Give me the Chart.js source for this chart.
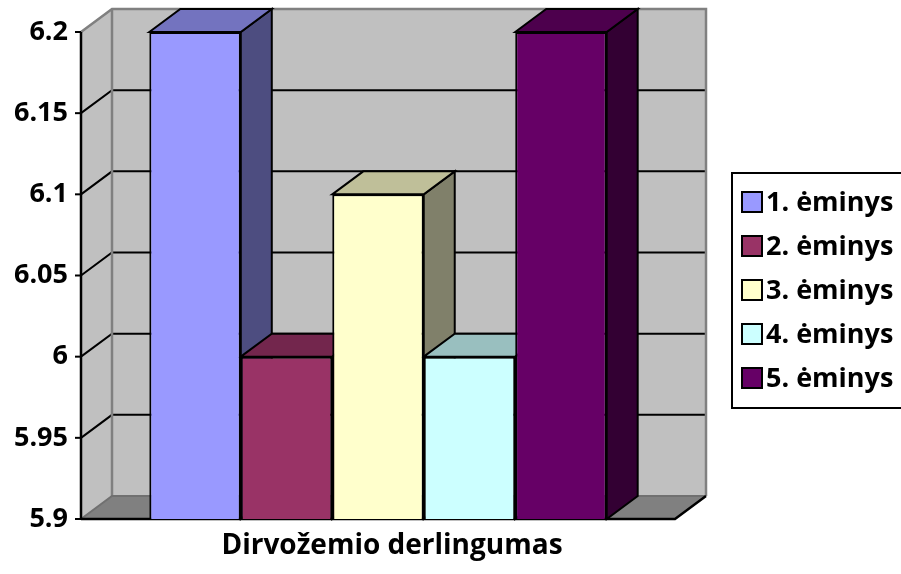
<!DOCTYPE html>
<html><head><meta charset="utf-8">
<script src="https://cdn.jsdelivr.net/npm/chart.js@4"></script>
<style>html,body{margin:0;padding:0;background:#fff}#wrap{width:901px;height:574px}</style>
</head><body><div id="wrap"><canvas id="c" width="901" height="574"></canvas></div>
<script>
const categories = ['Dirvožemio derlingumas'];
const seriesNames = ['1. ėminys', '2. ėminys', '3. ėminys', '4. ėminys', '5. ėminys'];
const seriesValues = [6.2, 6.0, 6.1, 6.0, 6.2];
const yTicks = [5.9, 5.95, 6.0, 6.05, 6.1, 6.15, 6.2];
const frontColors = ['#9999FF', '#993366', '#FFFFCC', '#CCFFFF', '#660066'];
const topColors = ['#7373BF', '#73264D', '#BFBF99', '#99BFBF', '#4D004D'];
const sideColors = ['#4D4D80', '#4D1A33', '#80806A', '#668080', '#330033'];
const DX = 31, DY = -23;
const FONT = '"Open Sans"';

function poly(ctx, pts, fill, stroke, lw) {
  ctx.beginPath();
  ctx.moveTo(pts[0][0], pts[0][1]);
  for (let i = 1; i < pts.length; i++) ctx.lineTo(pts[i][0], pts[i][1]);
  ctx.closePath();
  if (fill) { ctx.fillStyle = fill; ctx.fill(); }
  if (stroke) { ctx.strokeStyle = stroke; ctx.lineWidth = lw || 2; ctx.lineJoin = 'miter'; ctx.stroke(); }
}
function line(ctx, pts, color, lw) {
  ctx.beginPath();
  ctx.moveTo(pts[0][0], pts[0][1]);
  for (let i = 1; i < pts.length; i++) ctx.lineTo(pts[i][0], pts[i][1]);
  ctx.strokeStyle = color; ctx.lineWidth = lw || 2; ctx.stroke();
}

const threeD = {
  id: 'threeD',
  beforeDatasetsDraw(chart) {
    const ctx = chart.ctx, ca = chart.chartArea, ys = chart.scales.y;
    const L = ca.left, R = ca.right, T = ca.top, B = ca.bottom;
    ctx.save();
    poly(ctx, [[L + DX, T + DY], [R + DX, T + DY], [R + DX, B + DY], [L + DX, B + DY]], '#C0C0C0');
    poly(ctx, [[L, T], [L + DX, T + DY], [L + DX, B + DY], [L, B]], '#C0C0C0');
    poly(ctx, [[L, B], [R, B], [R + DX, B + DY], [L + DX, B + DY]], '#808080');
    yTicks.forEach(v => {
      if (v === ys.min || v === ys.max) return;
      const y = ys.getPixelForValue(v);
      line(ctx, [[L, y], [L + DX, y + DY], [R + DX, y + DY]], '#000', 2);
    });
    line(ctx, [[L, T], [L + DX, T + DY], [R + DX, T + DY], [R + DX, B + DY]], '#808080', 2.5);
    line(ctx, [[L + DX, T + DY], [L + DX, B + DY]], '#808080', 2.5);
    line(ctx, [[L, B], [L + DX, B + DY], [R + DX, B + DY]], '#707070', 2);
    line(ctx, [[L, B], [R, B], [R + DX, B + DY]], '#000', 2.5);
    line(ctx, [[L, T], [L, B + 1]], '#000', 2.5);
    yTicks.forEach(v => {
      const y = ys.getPixelForValue(v);
      line(ctx, [[L - 6, y], [L, y]], '#000', 2);
    });
    seriesNames.forEach((n, i) => {
      const el = chart.getDatasetMeta(i).data[0];
      if (!el) return;
      const l = el.x - el.width / 2, r = el.x + el.width / 2;
      const t = el.y, b = Math.min(el.base, B);
      poly(ctx, [[r, t], [r + DX, t + DY], [r + DX, b + DY], [r, b]], sideColors[i], '#000', 2);
      poly(ctx, [[l, t], [l + DX, t + DY], [r + DX, t + DY], [r, t]], topColors[i], '#000', 2);
    });
    ctx.restore();
  },
  afterDraw(chart) {
    const ctx = chart.ctx;
    ctx.save();
    ctx.strokeStyle = '#000'; ctx.lineWidth = 2;
    ctx.strokeRect(732, 173, 180, 235);
    ctx.font = 'bold 27px ' + FONT;
    ctx.textBaseline = 'middle';
    ctx.textAlign = 'left';
    seriesNames.forEach((n, i) => {
      const cy = 202 + i * 44;
      ctx.fillStyle = frontColors[i];
      ctx.fillRect(742, cy - 10, 20, 20);
      ctx.strokeStyle = '#000'; ctx.lineWidth = 2;
      ctx.strokeRect(742, cy - 10, 20, 20);
      ctx.fillStyle = '#000';
      ctx.fillText(n, 766, cy + 1);
    });
    ctx.restore();
  }
};

const datasets = seriesNames.map((n, i) => ({
  label: n,
  data: [seriesValues[i]],
  backgroundColor: frontColors[i],
  borderColor: '#000',
  borderWidth: 2,
  borderSkipped: false,
  barPercentage: 1,
  categoryPercentage: 0.77
}));

new Chart(document.getElementById('c'), {
  type: 'bar',
  data: { labels: categories, datasets },
  plugins: [threeD],
  options: {
    responsive: false,
    devicePixelRatio: 1,
    animation: false,
    layout: { padding: { left: 0, top: 32, right: 226, bottom: 0 } },
    plugins: { legend: { display: false }, tooltip: { enabled: false } },
    scales: {
      x: {
        type: 'category',
        grid: { display: false, drawTicks: false },
        border: { display: false },
        ticks: { color: '#000', font: { family: FONT, size: 28, weight: 'bold' }, padding: 10, labelOffset: 14, maxRotation: 0 },
        afterFit(s) { s.height = 55; }
      },
      y: {
        type: 'linear',
        min: 5.9, max: 6.2,
        grid: { display: false, drawTicks: false },
        border: { display: false },
        afterBuildTicks(s) { s.ticks = yTicks.map(v => ({ value: v })); },
        ticks: {
          color: '#000', padding: 13,
          font: { family: FONT, size: 27, weight: 'bold' },
          callback: v => String(parseFloat(Number(v).toFixed(2)))
        },
        afterFit(s) { s.width = 81; }
      }
    }
  }
});
</script>
</body></html>
